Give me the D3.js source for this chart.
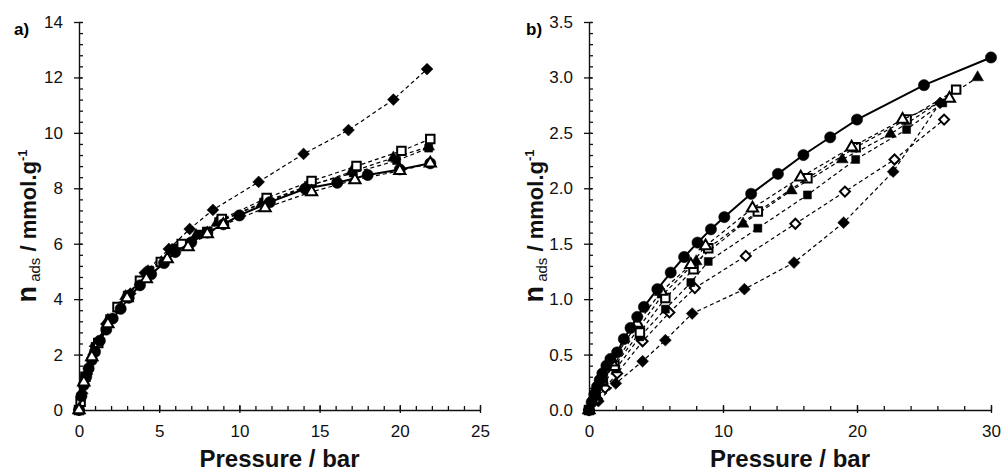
<!DOCTYPE html>
<html lang="en">
  <head>
    <meta charset="UTF-8" />
    <title>Adsorption isotherms</title>
    <style>
      body { margin: 0; background: #fff; }
      text { font-family: 'Liberation Sans', Arial, sans-serif; }
    </style>
    <script src="https://d3js.org/d3.v7.min.js"></script>
  </head>
  <body>
    <div class="d3Chart"></div>
    <script>
      // ---- panel a) data : [pressure bar, n mmol/g]
      const aFilledDiamond = [[0,0],[0.2,0.6],[0.5,1.3],[1.0,2.3],[1.7,3.1],[2.5,3.7],[3.2,4.2],[4.1,4.95],[5.6,5.81],[6.9,6.53],[8.35,7.22],[11.2,8.23],[14.0,9.24],[16.8,10.1],[19.6,11.2],[21.7,12.3]]
      const aOpenSquare = [[0,0],[0.1,0.3],[0.4,1.2],[1.2,2.42],[2.4,3.72],[3.8,4.66],[5.1,5.34],[6.4,5.99],[8.0,6.42],[8.9,6.89],[11.7,7.65],[14.5,8.26],[17.3,8.8],[20.1,9.35],[21.9,9.78]]
      const aFilledTriangle = [[0,0],[0.3,1.0],[0.9,2.1],[1.8,3.25],[2.9,4.1],[4.3,5.0],[5.8,5.75],[7.3,6.3],[8.6,6.75],[11.4,7.45],[14.2,8.05],[17.0,8.6],[19.6,9.1],[21.8,9.5]]
      const aFilledSquare = [[0,0],[0.4,1.2],[1.0,2.3],[1.9,3.3],[3.0,4.15],[4.4,5.05],[6.0,5.85],[7.5,6.35],[8.7,6.8],[11.5,7.5],[14.3,8.1],[17.1,8.55],[19.8,9.0],[21.8,9.45]]
      const aFilledCircle = [[0,0],[0.15,0.5],[0.3,0.9],[0.45,1.2],[0.6,1.5],[0.8,1.8],[1.0,2.1],[1.3,2.5],[1.7,2.9],[2.1,3.3],[2.6,3.65],[3.1,4.05],[3.8,4.5],[4.5,4.9],[5.3,5.3],[6.0,5.7],[7.0,6.05],[8.0,6.4],[9.0,6.7],[10.0,7.02],[11.9,7.5],[14.1,7.98],[16.1,8.2],[18.0,8.48],[20.0,8.68],[21.9,8.9]]
      const aOpenTriangle = [[0,0],[0.3,1.0],[0.8,1.91],[1.8,3.1],[3.0,4.04],[4.2,4.73],[5.5,5.45],[6.8,5.88],[8.0,6.35],[9.0,6.68],[11.6,7.29],[14.5,7.87],[17.2,8.3],[20.0,8.63],[21.9,8.9]]

      // ---- panel b) data
      const bFilledCircle = [[0,0],[0.2,0.07],[0.4,0.14],[0.6,0.21],[0.8,0.27],[1.0,0.33],[1.3,0.4],[1.6,0.46],[2.1,0.52],[2.6,0.64],[3.1,0.74],[3.6,0.84],[4.1,0.93],[5.1,1.09],[6.1,1.24],[7.1,1.38],[8.1,1.51],[9.1,1.63],[10.1,1.74],[12.1,1.95],[14.1,2.13],[16.0,2.3],[18.0,2.46],[20.0,2.62],[25.0,2.93],[30.0,3.18]]
      const bOpenTriangle = [[0,0],[0.4,0.13],[0.9,0.28],[1.7,0.43],[3.6,0.78],[5.4,1.07],[7.6,1.31],[8.7,1.48],[12.2,1.82],[15.8,2.1],[19.6,2.37],[23.4,2.62],[26.9,2.81]]
      const bOpenSquare = [[0,0],[0.5,0.14],[1.0,0.27],[1.9,0.4],[3.8,0.7],[5.7,1.01],[7.8,1.27],[8.9,1.46],[12.6,1.79],[16.3,2.09],[19.9,2.37],[23.7,2.62],[27.4,2.89]]
      const bFilledTriangle = [[0,0],[0.5,0.14],[1.0,0.27],[1.8,0.4],[3.7,0.74],[5.5,1.04],[8.0,1.34],[11.5,1.68],[15.1,1.98],[18.9,2.26],[22.5,2.49],[29.0,3.0]]
      const bFilledSquare = [[0,0],[0.5,0.12],[1.1,0.25],[2.0,0.37],[3.8,0.66],[5.7,0.91],[7.6,1.15],[8.9,1.34],[12.6,1.64],[16.3,1.94],[19.9,2.26],[23.7,2.53],[26.4,2.77]]
      const bOpenDiamond = [[0,0],[0.6,0.1],[1.2,0.2],[2.1,0.33],[4.0,0.62],[6.0,0.88],[7.9,1.1],[11.7,1.39],[15.4,1.68],[19.1,1.97],[22.8,2.26],[26.5,2.62]]
      const bFilledDiamond = [[0,0],[0.7,0.08],[2.0,0.24],[4.0,0.44],[5.7,0.63],[7.7,0.87],[11.6,1.09],[15.3,1.33],[19.0,1.69],[22.7,2.15],[26.2,2.77]]

      // ticks
      const aXTicks = [0, 5, 10, 15, 20, 25]
      const aYTicks = [0, 2, 4, 6, 8, 10, 12, 14]
      const bXTicks = [0, 10, 20, 30]
      const bYTicks = [0, 0.5, 1.0, 1.5, 2.0, 2.5, 3.0, 3.5]

      const width = 1003
      const height = 473
      const svg = d3.select('.d3Chart').append('svg').attr('width', width).attr('height', height)

      // marker styles
      const styles = {
        filledDiamond: { type: d3.symbolSquare, size: 70, rot: 45, fill: '#000', dash: '4,3', lw: 1.2 },
        openDiamond: { type: d3.symbolSquare, size: 50, rot: 45, fill: '#fff', dash: '4,3', lw: 1.2 },
        openSquare: { type: d3.symbolSquare, size: 72, rot: 0, fill: '#fff', dash: '4,3', lw: 1.2 },
        filledSquare: { type: d3.symbolSquare, size: 64, rot: 0, fill: '#000', dash: '4,3', lw: 1.2 },
        filledTriangle: { type: d3.symbolTriangle, size: 60, rot: 0, fill: '#000', dash: '4,3', lw: 1.2 },
        openTriangle: { type: d3.symbolTriangle, size: 55, rot: 0, fill: '#fff', dash: '4,3', lw: 1.2 },
        filledCircle: { type: d3.symbolCircle, size: 100, rot: 0, fill: '#000', dash: null, lw: 2 }
      }

      function panel(cfg) {
        const x = d3.scaleLinear().domain(cfg.xDomain).range([cfg.left, cfg.right])
        const y = d3.scaleLinear().domain(cfg.yDomain).range([410, 22])
        const g = svg.append('g')

        // minor ticks (inside)
        g.append('g')
          .attr('transform', `translate(0,${y(cfg.yDomain[0])})`)
          .call(d3.axisBottom(x).tickValues(d3.range(cfg.xDomain[0], cfg.xDomain[1] + 1e-9, cfg.xMinor)).tickSize(-4).tickFormat(''))
          .call((s) => s.select('.domain').remove())
        g.append('g')
          .attr('transform', `translate(${x(cfg.xDomain[0])},0)`)
          .call(d3.axisLeft(y).tickValues(d3.range(cfg.yDomain[0], cfg.yDomain[1] + 1e-9, cfg.yMinor)).tickSize(-4).tickFormat(''))
          .call((s) => s.select('.domain').remove())

        // major axes
        const xa = g.append('g')
          .attr('transform', `translate(0,${y(cfg.yDomain[0])})`)
          .call(d3.axisBottom(x).tickValues(cfg.xTicks).tickSizeOuter(0).tickPadding(9).tickFormat(d3.format('d')))
        xa.selectAll('.tick line').attr('y1', -5).attr('y2', 3)
        const ya = g.append('g')
          .attr('transform', `translate(${x(cfg.xDomain[0])},0)`)
          .call(d3.axisLeft(y).tickValues(cfg.yTicks).tickSizeOuter(0).tickPadding(16).tickFormat(cfg.yFormat))
        ya.selectAll('.tick line').attr('x1', -5).attr('x2', 3)
        g.selectAll('.domain').attr('stroke', '#111').attr('stroke-width', 1.4)
        g.selectAll('.tick line').attr('stroke', '#111').attr('stroke-width', 1.3)
        g.selectAll('.tick text').attr('font-size', 17).attr('fill', '#111').style('font-family', "'Liberation Sans', Arial, sans-serif")
        ya.selectAll('.tick text').attr('x', -16)

        // series
        const line = d3.line().x((d) => x(d[0])).y((d) => y(d[1]))
        cfg.series.forEach(([key, data]) => {
          const st = styles[key]
          g.append('path')
            .datum(data)
            .attr('d', line)
            .attr('fill', 'none')
            .attr('stroke', '#000')
            .attr('stroke-width', st.lw)
            .attr('stroke-dasharray', st.dash)
          g.append('g')
            .selectAll('path')
            .data(data)
            .join('path')
            .attr('transform', (d) => `translate(${x(d[0])},${y(d[1])}) rotate(${st.rot})`)
            .attr('d', d3.symbol(st.type, st.size))
            .attr('fill', st.fill)
            .attr('stroke', '#000')
            .attr('stroke-width', st.fill === '#fff' ? 2 : 0.5)
        })

        // panel label
        svg.append('text').attr('x', cfg.labelX).attr('y', 35).attr('font-size', 17).attr('font-weight', 'bold').text(cfg.label)

        // axis titles
        svg.append('text')
          .attr('x', (cfg.left + cfg.right) / 2)
          .attr('y', 467)
          .attr('text-anchor', 'middle')
          .attr('font-size', 24)
          .attr('font-weight', 'bold')
          .attr('fill', '#111')
          .text('Pressure / bar')

        const yt = svg.append('text')
          .attr('transform', `translate(${cfg.titleX},226) rotate(-90)`)
          .attr('text-anchor', 'middle')
          .attr('font-weight', 'bold')
          .attr('fill', '#111')
        yt.append('tspan').attr('font-size', 27).text('n')
        yt.append('tspan').attr('font-size', 15).attr('font-weight', 'normal').attr('dy', 4).text(' ads')
        yt.append('tspan').attr('font-size', 22).attr('dy', -4).text(' / mmol.g')
        yt.append('tspan').attr('font-size', 13).attr('dy', -9).text('-1')
      }

      panel({
        left: 79, right: 480, xDomain: [0, 25], yDomain: [0, 14],
        xTicks: aXTicks, yTicks: aYTicks, xMinor: 1, yMinor: 0.4,
        yFormat: d3.format('d'), label: 'a)', labelX: 14, titleX: 36,
        series: [
          ['filledDiamond', aFilledDiamond],
          ['filledSquare', aFilledSquare],
          ['filledTriangle', aFilledTriangle],
          ['openSquare', aOpenSquare],
          ['filledCircle', aFilledCircle],
          ['openTriangle', aOpenTriangle]
        ]
      })

      panel({
        left: 589, right: 991, xDomain: [0, 30], yDomain: [0, 3.5],
        xTicks: bXTicks, yTicks: bYTicks, xMinor: 2, yMinor: 0.1,
        yFormat: d3.format('.1f'), label: 'b)', labelX: 526, titleX: 543,
        series: [
          ['filledDiamond', bFilledDiamond],
          ['openDiamond', bOpenDiamond],
          ['filledSquare', bFilledSquare],
          ['filledTriangle', bFilledTriangle],
          ['openSquare', bOpenSquare],
          ['openTriangle', bOpenTriangle],
          ['filledCircle', bFilledCircle]
        ]
      })
    </script>
  </body>
</html>
